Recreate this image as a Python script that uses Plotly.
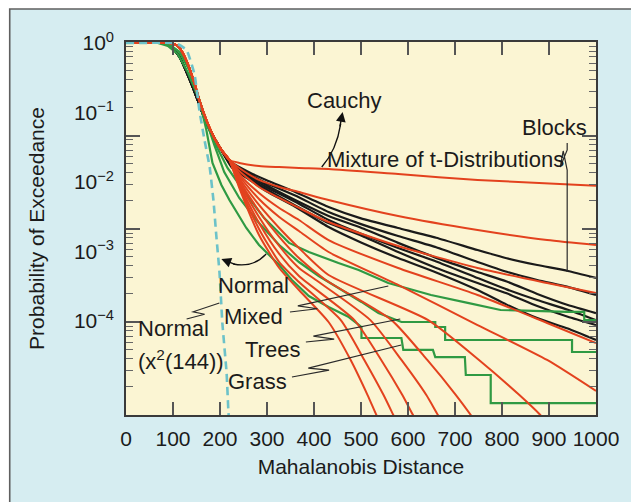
import numpy as np
import plotly.graph_objects as go

# ---------------- data ----------------
# shared upper part of the red model curves (t-distribution family)
red_trunk_x = [0, 90, 102, 114, 129, 146, 156, 171, 188, 203, 220]
red_trunk_p = [1, 1, 0.97, 0.85, 0.55, 0.26, 0.15, 0.078, 0.043, 0.029, 0.0207]

red_tail_x = [
    [241, 283, 326, 368, 431, 579, 748, 1000],
    [241, 283, 326, 368, 431, 579, 748, 896, 1000],
    [241, 283, 326, 368, 431, 579, 748, 896, 1000],
    [241, 283, 326, 368, 431, 579, 748, 896, 1000],
    [241, 283, 326, 368, 431, 579, 748, 896, 1000],
    [241, 283, 326, 368, 431, 643, 751, 837, 882, 907],
    [241, 283, 326, 368, 425, 565, 641, 702, 734, 748],
    [241, 283, 326, 368, 404, 520, 586, 639, 664, 677],
    [241, 283, 326, 368, 486, 543, 588, 611, 624],
    [241, 283, 326, 368, 457, 507, 548, 569, 579],
    [241, 283, 326, 368, 431, 478, 514, 533, 543],
]
red_tail_p = [
    [0.0188, 0.0170, 0.0164, 0.0159, 0.0154, 0.0130, 0.0107, 0.0088],
    [0.0159, 0.0107, 0.00848, 0.00718, 0.00551, 0.00324, 0.00204, 0.00146, 0.00124],
    [0.0144, 0.00848, 0.00589, 0.00423, 0.00266, 0.0012, 5.79e-4, 3.52e-4, 2.53e-4],
    [0.0130, 0.00695, 0.00423, 0.00284, 0.00146, 5.79e-4, 2.37e-4, 9.36e-5, 4.82e-5],
    [0.0122, 0.00569, 0.00314, 0.00197, 9.84e-4, 3.30e-4, 8.75e-5, 2.75e-5, 9.84e-6],
    [0.0114, 0.00467, 0.00218, 0.00112, 4.59e-4, 1.03e-4, 2.75e-5, 8.6e-6, 4.4e-6, 2.7e-6],
    [0.0107, 0.00383, 0.00162, 8.05e-4, 3.89e-4, 1.03e-4, 2.75e-5, 8.6e-6, 4.4e-6, 3.2e-6],
    [0.0100, 0.00314, 0.0012, 5.79e-4, 3.89e-4, 1.03e-4, 2.75e-5, 8.6e-6, 4.4e-6, 3.2e-6],
    [0.00935, 0.00257, 9.21e-4, 4.44e-4, 1.03e-4, 2.75e-5, 8.6e-6, 4.4e-6, 3.2e-6],
    [0.00876, 0.00211, 7.06e-4, 3.64e-4, 1.03e-4, 2.75e-5, 8.6e-6, 4.4e-6, 3.2e-6],
    [0.0082, 0.00173, 5.79e-4, 2.79e-4, 9.68e-5, 2.75e-5, 8.6e-6, 4.4e-6, 3.2e-6],
]

# "Blocks" data (black)
black_trunk_x = [0, 80, 95, 114, 142, 171, 199]
black_trunk_p = [1, 1, 0.92, 0.63, 0.233, 0.0706, 0.0319]
black_tail_x = [226, 262, 298, 360, 431, 500, 579, 660, 748, 810, 875, 940, 1000]
black_tail_p = [
    [0.0188, 0.0138, 0.0107, 0.0072, 0.00437, 0.0030, 0.00218, 0.00158, 0.00105, 8.0e-4, 6.4e-4, 5.25e-4, 4.16e-4],
    [0.0182, 0.0130, 0.00968, 0.0064, 0.0037, 0.00248, 0.00167, 0.00115, 7.06e-4, 5.1e-4, 3.89e-4, 3.1e-4, 2.37e-4],
    [0.0176, 0.01265, 0.00906, 0.0055, 0.00324, 0.0022, 0.00133, 8.1e-4, 5.07e-4, 3.7e-4, 2.45e-4, 1.7e-4, 1.30e-4],
    [0.0170, 0.0120, 0.00848, 0.0052, 0.00284, 0.0018, 0.00112, 7.2e-4, 4.16e-4, 2.85e-4, 2.0e-4, 1.45e-4, 1.03e-4],
    [0.0164, 0.0114, 0.00793, 0.0046, 0.00257, 0.0017, 9.84e-4, 5.8e-4, 3.52e-4, 2.5e-4, 1.64e-4, 1.15e-4, 8.75e-5],
    [0.0159, 0.01086, 0.00742, 0.0044, 0.00225, 0.00135, 8.05e-4, 5.0e-4, 2.79e-4, 1.72e-4, 1.10e-4, 7.8e-5, 5.33e-5],
]

# terrain classes (green)
green_trunk_x = [0, 72, 93, 114, 135, 156, 173]
green_trunk_p = [1, 1, 0.936, 0.742, 0.409, 0.151, 0.066]
mixed_x = [188, 216, 252, 294, 347, 389, 452, 495, 558, 649, 727, 797, 939, 975, 975, 1000]
mixed_p = [0.0376, 0.0159, 0.00718, 0.00303, 0.00133, 9.84e-4, 6.83e-4, 5.42e-4,
           3.52e-4, 2.37e-4, 1.82e-4, 1.44e-4, 1.35e-4, 1.35e-4, 1.03e-4, 1.03e-4]
trees_x = [188, 209, 241, 283, 326, 368, 410, 452, 501, 537, 586, 658, 658, 679, 679, 949, 949, 1000]
trees_p = [0.034, 0.0139, 0.00589, 0.00257, 0.00124, 7.06e-4, 4.44e-4, 2.98e-4, 1.88e-4,
           1.30e-4, 9.68e-5, 9.68e-5, 8.2e-5, 8.2e-5, 5.33e-5, 5.33e-5, 3.58e-5, 3.58e-5]
grass_x = [0, 68, 89, 110, 131, 156, 171, 184, 203, 220, 256, 283, 326, 353, 389, 431, 474,
           501, 501, 586, 590, 653, 658, 721, 723, 776, 776, 1000]
grass_p = [1, 1, 0.905, 0.695, 0.383, 0.151, 0.056, 0.0188, 0.00906, 0.00551, 0.00218, 0.00124,
           6.4e-4, 3.89e-4, 2.29e-4, 1.59e-4, 1.14e-4, 8.2e-5, 5.69e-5, 5.69e-5, 3.83e-5,
           3.83e-5, 3.03e-5, 3.03e-5, 1.67e-5, 1.67e-5, 6.6e-6, 6.6e-6]

# Normal (chi-square 144) reference
chi_x = [0, 100, 112, 129, 146, 156, 167, 178, 186, 192, 199, 205, 214, 218, 220]
chi_p = [1, 1, 0.95, 0.793, 0.347, 0.109, 0.0402, 0.0164, 0.00551, 0.00173, 4.9e-4, 9.4e-5,
         1.8e-5, 4.8e-6, 3.2e-6]

x_ticks = list(range(0, 1001, 100))
y_label_vals = [1, 0.1, 0.01, 0.001, 0.0001]
y_label_text = ["10<sup>0</sup>", "10<sup>−1</sup>", "10<sup>−2</sup>",
                "10<sup>−3</sup>", "10<sup>−4</sup>"]

# ---------------- geometry / style ----------------
W, H = 631, 502
ML, MR, MT, MB = 126, 32, 42, 87
PW, PH = W - ML - MR, H - MT - MB
DEC = 69.5                      # pixels per labelled decade
L_TOP = (43 - MT) / DEC
L_BOT = -(H - MB - 43) / DEC
YR = [L_BOT, L_TOP]


def PX(px):
    return (px - ML) / PW


def PY(py):
    return (H - MB - py) / PH


def path(pts):
    return "M " + " L ".join(f"{PX(a):.4f},{PY(b):.4f}" for a, b in pts)


def zig(A, B, t1, t2, h=4):
    ax_, ay_ = A
    bx_, by_ = B
    P = (ax_ + (bx_ - ax_) * t2, ay_ + (by_ - ay_) * t2 + h)
    Q = (ax_ + (bx_ - ax_) * t1, ay_ + (by_ - ay_) * t1 - h)
    return path([A, P, Q, B])


# decorative tick grid of the original frame (4 decades over the full height)
FD = (H - MB - 42.5) / 4.0
major_px = [42.5 + FD * k for k in range(5)]
minor_px = [42.5 + FD * (k + 1 - np.log10(m)) for k in range(4) for m in range(2, 10)]


def px_to_val(py):
    return 10 ** (L_TOP - (py - MT) / DEC)


major_vals = [px_to_val(p) for p in major_px]
minor_vals = [px_to_val(p) for p in minor_px]

RED = "#e3421e"
BLACK = "#1a1a1a"
GREEN = "#2f9a43"
CYAN = "#6cc2c9"
FONT = "Liberation Sans, Arial, sans-serif"
TXT = "#1b1b1b"

fig = go.Figure()

for p in black_tail_p:
    fig.add_trace(go.Scatter(x=black_trunk_x + black_tail_x, y=black_trunk_p + p,
                             mode="lines", line=dict(color=BLACK, width=2.2, shape="spline",
                                                     smoothing=0.5), hoverinfo="skip"))

fig.add_trace(go.Scatter(x=green_trunk_x + mixed_x, y=green_trunk_p + mixed_p, mode="lines",
                         line=dict(color=GREEN, width=2.2), hoverinfo="skip"))
fig.add_trace(go.Scatter(x=green_trunk_x + trees_x, y=green_trunk_p + trees_p, mode="lines",
                         line=dict(color=GREEN, width=2.2), hoverinfo="skip"))
fig.add_trace(go.Scatter(x=grass_x, y=grass_p, mode="lines",
                         line=dict(color=GREEN, width=2.2), hoverinfo="skip"))

for tx, tp in zip(red_tail_x, red_tail_p):
    fig.add_trace(go.Scatter(x=red_trunk_x + tx, y=red_trunk_p + tp, mode="lines",
                             line=dict(color=RED, width=2.0, shape="spline", smoothing=0.6),
                             hoverinfo="skip"))

fig.add_trace(go.Scatter(x=chi_x, y=chi_p, mode="lines", yaxis="y2",
                         line=dict(color=CYAN, width=2.6, dash="8px,5px", shape="spline",
                                   smoothing=0.4), hoverinfo="skip"))

axis_col = "#3a3a3a"
fig.update_layout(
    width=W, height=H, autosize=False,
    margin=dict(l=ML, r=MR, t=MT, b=MB, pad=0),
    paper_bgcolor="#d6edf1", plot_bgcolor="#fbf5d3",
    showlegend=False,
    font=dict(family=FONT, color=TXT, size=21),
    xaxis=dict(range=[0, 1000], tickmode="array", tickvals=x_ticks,
               ticks="inside", ticklen=13, tickwidth=1.5, tickcolor="#555",
               showline=True, linecolor=axis_col, linewidth=1.6, mirror="ticks",
               showgrid=False, zeroline=False, tickfont=dict(size=21),
               ticklabelstandoff=4,
               title=dict(text="Mahalanobis Distance", font=dict(size=21), standoff=10)),
    yaxis=dict(type="log", range=YR, tickmode="array", tickvals=major_vals,
               ticks="inside", ticklen=14, tickwidth=1.6, tickcolor="#555",
               showticklabels=False, showline=True, linecolor=axis_col, linewidth=1.6,
               mirror="ticks", showgrid=False, zeroline=False,
               minor=dict(tickmode="array", tickvals=minor_vals, ticks="inside",
                          ticklen=7, tickwidth=1.4, tickcolor="#666"),
               title=dict(text="Probability of Exceedance", font=dict(size=21), standoff=74)),
    yaxis2=dict(type="log", range=YR, overlaying="y", side="left", anchor="x",
                tickmode="array", tickvals=y_label_vals, ticktext=y_label_text,
                ticks="", showline=False, showgrid=False, zeroline=False,
                tickfont=dict(size=21), ticklabelstandoff=11),
)

shapes = []
# white page margin and frame of the figure panel
shapes.append(dict(type="rect", xref="paper", yref="paper", x0=PX(-20), x1=PX(9),
                   y0=PY(520), y1=PY(-20), fillcolor="white", line=dict(width=0), layer="below"))
shapes.append(dict(type="rect", xref="paper", yref="paper", x0=PX(-20), x1=PX(650),
                   y0=PY(9), y1=PY(-20), fillcolor="white", line=dict(width=0), layer="below"))
shapes.append(dict(type="path", xref="paper", yref="paper",
                   path=path([(9, 520), (9, 9), (650, 9)]), line=dict(color="#5f5f5f", width=1.6)))

lead = dict(color="#2a2a2a", width=1.2)
# Cauchy arrow shaft
shapes.append(dict(type="path", xref="paper", yref="paper",
                   path=f"M {PX(323):.4f},{PY(167):.4f} Q {PX(338):.4f},{PY(150):.4f} {PX(342):.4f},{PY(124):.4f}",
                   line=dict(color="#111", width=1.4)))
# Normal arrow shaft
shapes.append(dict(type="path", xref="paper", yref="paper",
                   path=f"M {PX(267):.4f},{PY(254):.4f} Q {PX(254):.4f},{PY(268):.4f} {PX(234):.4f},{PY(264):.4f}",
                   line=dict(color="#111", width=1.4)))
# Blocks leader
shapes.append(dict(type="path", xref="paper", yref="paper",
                   path=path([(570, 143), (570, 150), (563, 167), (566, 151), (570, 170), (570, 272)]),
                   line=lead))
# zig-zag leaders
shapes.append(dict(type="path", xref="paper", yref="paper",
                   path=zig((187, 319), (220, 303), 0.2, 0.55), line=lead))
shapes.append(dict(type="path", xref="paper", yref="paper",
                   path=zig((291, 312), (390, 286), 0.08, 0.28), line=lead))
shapes.append(dict(type="path", xref="paper", yref="paper",
                   path=zig((307, 342), (402, 319), 0.08, 0.3), line=lead))
shapes.append(dict(type="path", xref="paper", yref="paper",
                   path=zig((293, 377), (403, 345), 0.15, 0.34), line=lead))
fig.update_layout(shapes=shapes)

ann = []


def label(txt, px, py, anchor="center", size=22):
    ann.append(dict(text=txt, x=PX(px), y=PY(py), xref="paper", yref="paper",
                    xanchor=anchor, yanchor="middle", showarrow=False,
                    font=dict(size=size, color=TXT, family=FONT)))


label("Cauchy", 346, 100)
label("Blocks", 557, 127)
label("Mixture of t-Distributions", 326, 159, "left")
label("Normal", 254, 285)
label("Mixed", 254, 316)
label("Trees", 273, 349)
label("Grass", 258, 381)
label("Normal", 136, 328, "left")
label("(x<sup>2</sup>(144))", 136, 360, "left")

# arrow heads
ann.append(dict(text="", x=PX(344), y=PY(112), xref="paper", yref="paper", ax=-3, ay=16,
                showarrow=True, arrowhead=2, arrowsize=1.4, arrowwidth=1.4, arrowcolor="#111"))
ann.append(dict(text="", x=PX(222), y=PY(259), xref="paper", yref="paper", ax=15, ay=6,
                showarrow=True, arrowhead=2, arrowsize=1.4, arrowwidth=1.4, arrowcolor="#111"))
fig.update_layout(annotations=ann)

fig.write_html("out.html")
